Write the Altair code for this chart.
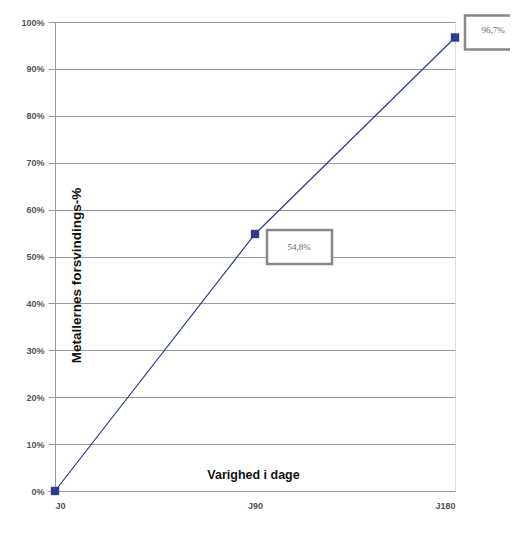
import altair as alt
import pandas as pd

days = [0, 90, 180]
day_labels = ["J0", "J90", "J180"]
values = [0.0, 54.8, 96.7]
value_labels = ["", "54,8%", "96,7%"]

df = pd.DataFrame({"day": days, "dl": day_labels, "value": values, "label": value_labels})

label_expr = "datum.value == 0 ? 'J0' : (datum.value == 90 ? 'J90' : 'J180')"

x = alt.X("day:Q", scale=alt.Scale(domain=[0, 180], nice=False, zero=False),
          axis=alt.Axis(values=days, labelExpr=label_expr, title="Varighed i dage",
                        titleX=198, titleY=-13, titleBaseline="alphabetic", titleAnchor=None,
                        titleFont="Liberation Sans", titleFontSize=12.5, titleFontWeight="bold",
                        titleColor="#111", labelFont="Liberation Sans", labelFontSize=9,
                        labelFontWeight="bold", labelColor="#555", labelPadding=10,
                        grid=False, ticks=False, domain=True, domainColor="#999"))
y = alt.Y("value:Q", scale=alt.Scale(domain=[0, 100], nice=False),
          axis=alt.Axis(values=list(range(0, 101, 10)), labelExpr="datum.value + '%'",
                        title="Metallernes forsvindings-%", titleX=25, titleY=253,
                        titleAngle=-90, titleAlign="center", titleBaseline="alphabetic",
                        titleFont="Liberation Sans", titleFontSize=13.5, titleFontWeight="bold",
                        titleColor="#111", labelFont="Liberation Sans", labelFontSize=9,
                        labelFontWeight="bold", labelColor="#555", labelPadding=4,
                        grid=True, gridColor="#999", gridWidth=1, tickSize=7, tickColor="#999",
                        domainColor="#999"))

base = alt.Chart(df)
line = base.mark_line(color="#2E3A8C", strokeWidth=1.2).encode(x=x, y=y)
pts = base.mark_square(color="#2E3A8C", size=70, opacity=1).encode(x=x, y=y)

b1 = base.transform_filter("datum.day == 90")
box1 = b1.mark_rect(fill="white", stroke="#888", strokeWidth=2.5, xOffset=12, x2Offset=77,
                    yOffset=-4, y2Offset=30).encode(x=x, x2="day:Q", y=y, y2="value:Q")
txt1 = b1.mark_text(font="Liberation Serif", fontSize=9, color="#666", dx=44, dy=13).encode(
    x=x, y=y, text="label:N")

b2 = base.transform_filter("datum.day == 180")
box2 = b2.mark_rect(fill="white", stroke="#888", strokeWidth=2.5, xOffset=10, x2Offset=80,
                    yOffset=-22, y2Offset=12).encode(x=x, x2="day:Q", y=y, y2="value:Q")
txt2 = b2.mark_text(font="Liberation Serif", fontSize=9, color="#666", dx=38, dy=-7).encode(
    x=x, y=y, text="label:N")

chart = alt.layer(line, pts, box1, txt1, box2, txt2).properties(
    width=400, height=469,
    autosize=alt.AutoSizeParams(type="none"),
    padding={"left": 47, "top": 14, "right": 55, "bottom": 20},
).configure_view(stroke="#999", strokeWidth=1, clip=False).configure(background="white")

chart.save("out.html", embed_options={"renderer": "svg", "actions": False})
